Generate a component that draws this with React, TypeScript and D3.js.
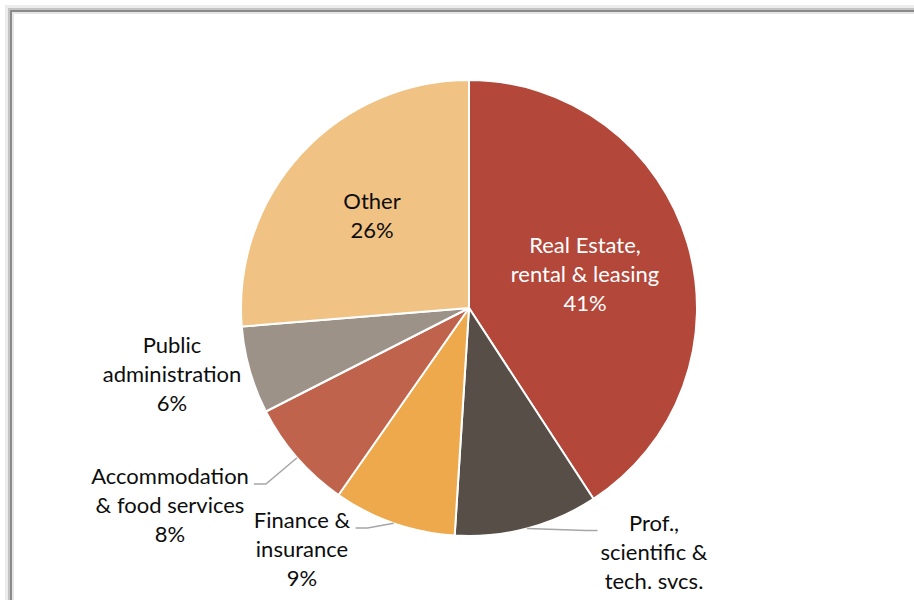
import React, { useEffect, useRef } from 'react';
import * as d3 from 'd3';

// industry shares (%), clockwise from 12 o'clock
const categories = [
  'Real Estate, rental & leasing',
  'Prof., scientific & tech. svcs.',
  'Finance & insurance',
  'Accommodation & food services',
  'Public administration',
  'Other',
];
const labelLines = [
  ['Real Estate,', 'rental & leasing'],
  ['Prof.,', 'scientific &', 'tech. svcs.'],
  ['Finance &', 'insurance'],
  ['Accommodation', '& food services'],
  ['Public', 'administration'],
  ['Other'],
];
const shares = [40.8, 10.2, 8.7, 7.8, 6.2, 26.3];
const colors = ['#B3473A', '#564E47', '#EDA94C', '#C0634C', '#9C9288', '#F0C283'];

// label layout: block centre relative to pie centre, inside/outside, leader line
const labelCenters: [number, number][] = [
  [116, -34],
  [185, 258],
  [-167, 241],
  [-299, 197],
  [-297, 66],
  [-97, -93],
];
const insideLabel = [true, false, false, false, false, true];
const hasLeader = [false, true, true, true, false, false];

const App: React.FC = () => {
  const ref = useRef<SVGSVGElement | null>(null);

  useEffect(() => {
    if (!ref.current) return;
    const svg = d3.select(ref.current);
    svg.selectAll('*').remove();

    const width = 914;
    const height = 600;
    const cx = 469;
    const cy = 308;
    const R = 228;
    const lineH = 29;
    const fontSize = 22;

    // chart frame (runs off the right and bottom edges)
    svg.append('rect').attr('x', 6.5).attr('y', 6.5).attr('width', 1000).attr('height', 1000)
      .attr('fill', 'none').attr('stroke', '#ececec').attr('stroke-width', 3);
    svg.append('rect').attr('x', 9).attr('y', 9).attr('width', 1000).attr('height', 1000)
      .attr('fill', 'none').attr('stroke', '#c4c4c4').attr('stroke-width', 2);
    svg.append('rect').attr('x', 13).attr('y', 13).attr('width', 1000).attr('height', 1000)
      .attr('fill', 'none').attr('stroke', '#e6e6e6').attr('stroke-width', 2);
    svg.append('rect').attr('x', 11).attr('y', 11).attr('width', 1000).attr('height', 1000)
      .attr('fill', 'none').attr('stroke', '#8a8a8a').attr('stroke-width', 2);

    const g = svg.append('g').attr('transform', `translate(${cx},${cy})`);

    const pie = d3.pie<number>().sort(null).value((d) => d);
    const arcs = pie(shares);
    const arc = d3.arc<d3.PieArcDatum<number>>().innerRadius(0).outerRadius(R);
    const edge = d3.arc<d3.PieArcDatum<number>>().innerRadius(R).outerRadius(R);

    g.selectAll('path.slice')
      .data(arcs)
      .join('path')
      .attr('class', 'slice')
      .attr('d', arc as any)
      .attr('fill', (_d, i) => colors[i])
      .attr('stroke', '#ffffff')
      .attr('stroke-width', 2)
      .attr('stroke-linejoin', 'round');

    arcs.forEach((a, i) => {
      const lines = labelLines[i].concat(`${Math.round(shares[i])}%`);
      const [lx, ly] = labelCenters[i];
      const n = lines.length;
      const text = g.append('text')
        .attr('text-anchor', 'middle')
        .attr('font-family', 'Lato, "Open Sans", sans-serif')
        .attr('font-size', fontSize)
        .attr('fill', i === 0 ? '#ffffff' : '#0d0d0d')
        .attr('aria-label', categories[i]);
      lines.forEach((t, k) => {
        const y = ly + (k - (n - 1) / 2) * lineH + 8;
        // lines below the visible area are cut off in the original too
        if (cy + y > height - 6) return;
        text.append('tspan').attr('x', lx).attr('y', y).text(t);
      });

      if (!insideLabel[i] && hasLeader[i]) {
        const bb = (text.node() as SVGTextElement).getBBox();
        const firstBase = ly - ((n - 1) / 2) * lineH + 8;
        const [ex, ey] = edge.centroid(a);
        const right = ex > lx;
        const sx = right ? bb.x + bb.width + 5 : bb.x - 3;
        const bx = right ? sx + 12 : Math.max(ex, sx - 12);
        g.append('polyline')
          .attr('points', `${sx},${firstBase} ${bx},${firstBase} ${ex},${ey}`)
          .attr('fill', 'none')
          .attr('stroke', '#a6a6a6')
          .attr('stroke-width', 1.5);
      }
    });
    void width;
  }, []);

  return (
    <svg
      ref={ref}
      width={914}
      height={600}
      style={{ position: 'absolute', left: 0, top: 0, background: '#ffffff' }}
    />
  );
};

export default App;
